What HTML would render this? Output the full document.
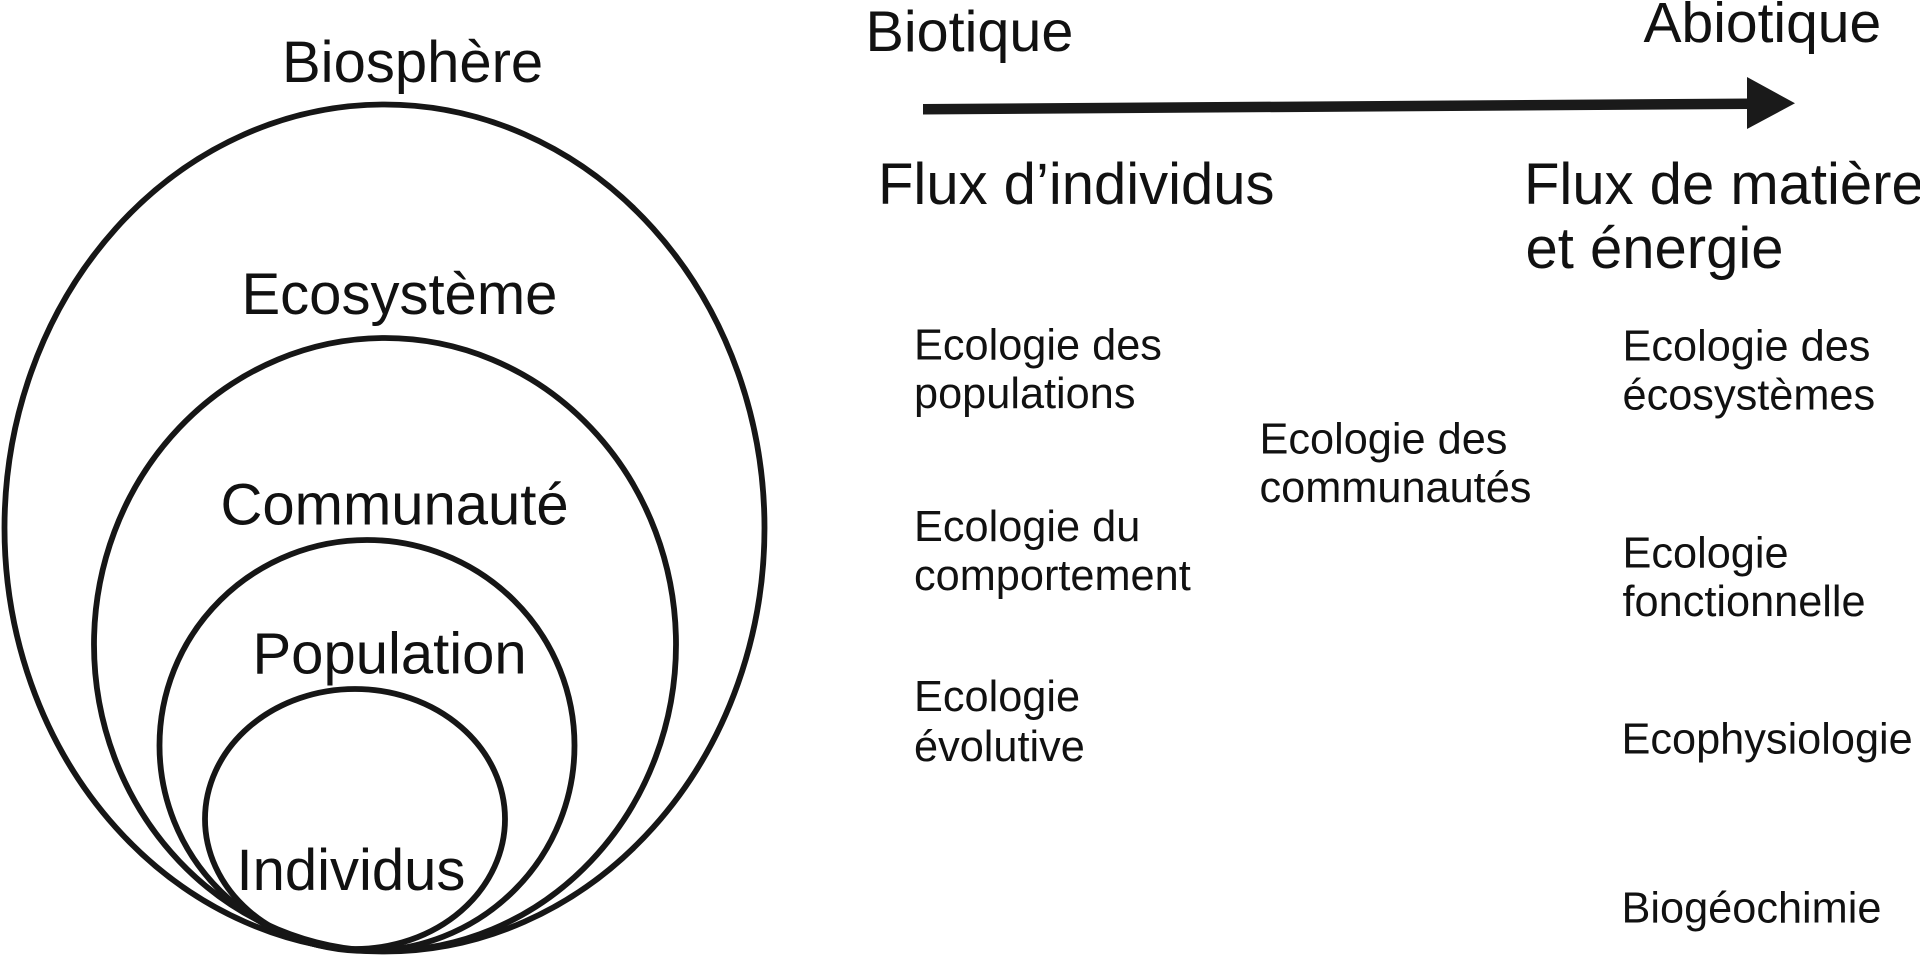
<!DOCTYPE html>
<html>
<head>
<meta charset="utf-8">
<style>
  html, body { margin: 0; padding: 0; background: #ffffff; }
  body { width: 1920px; height: 955px; overflow: hidden; }
  svg { display: block; }
  text { font-family: "Liberation Sans", Arial, sans-serif; fill: #111111; }
  .big { font-size: 58px; }
  .sm { font-size: 43.3px; }
</style>
</head>
<body>
<svg width="1920" height="955" viewBox="0 0 1920 955" xmlns="http://www.w3.org/2000/svg">
  <!-- nested ellipses -->
  <g fill="none" stroke="#161616" stroke-width="5.8">
    <ellipse cx="384.5" cy="528" rx="380" ry="423.5"/>
    <ellipse cx="385" cy="644.5" rx="291" ry="306.5"/>
    <ellipse cx="367" cy="745.5" rx="207.5" ry="205.5"/>
    <ellipse cx="355" cy="819" rx="150" ry="130"/>
  </g>

  <!-- ellipse labels -->
  <text class="big" x="282" y="82">Biosphère</text>
  <text class="big" x="241.5" y="314">Ecosystème</text>
  <text class="big" x="220.5" y="524.5">Communauté</text>
  <text class="big" x="252.5" y="673.5">Population</text>
  <text class="big" x="236.5" y="890">Individus</text>

  <!-- arrow -->
  <polygon points="923,104 1750,98.5 1750,109 923,114.5" fill="#1a1a1a"/>
  <polygon points="1747,77 1795,103.3 1747,129" fill="#1a1a1a"/>

  <!-- top labels -->
  <text class="big" x="865.5" y="51" style="font-size:57.5px">Biotique</text>
  <text class="big" x="1643.5" y="42" style="font-size:57px">Abiotique</text>
  <text class="big" x="878" y="204">Flux d’individus</text>
  <text class="big" x="1524" y="204">Flux de matière</text>
  <text class="big" x="1525.5" y="268">et énergie</text>

  <!-- left column -->
  <text class="sm" x="914" y="359.5">Ecologie des</text>
  <text class="sm" x="914" y="408">populations</text>
  <text class="sm" x="914" y="541">Ecologie du</text>
  <text class="sm" x="914" y="590">comportement</text>
  <text class="sm" x="914" y="711">Ecologie</text>
  <text class="sm" x="914" y="761">évolutive</text>

  <!-- middle -->
  <text class="sm" x="1259.5" y="453.5">Ecologie des</text>
  <text class="sm" x="1259.5" y="502">communautés</text>

  <!-- right column -->
  <text class="sm" x="1622.5" y="360.5">Ecologie des</text>
  <text class="sm" x="1622.5" y="409.5">écosystèmes</text>
  <text class="sm" x="1622.5" y="567.5">Ecologie</text>
  <text class="sm" x="1622.5" y="616">fonctionnelle</text>
  <text class="sm" x="1621.5" y="753.5">Ecophysiologie</text>
  <text class="sm" x="1621.5" y="922.5">Biogéochimie</text>
</svg>
</body>
</html>
